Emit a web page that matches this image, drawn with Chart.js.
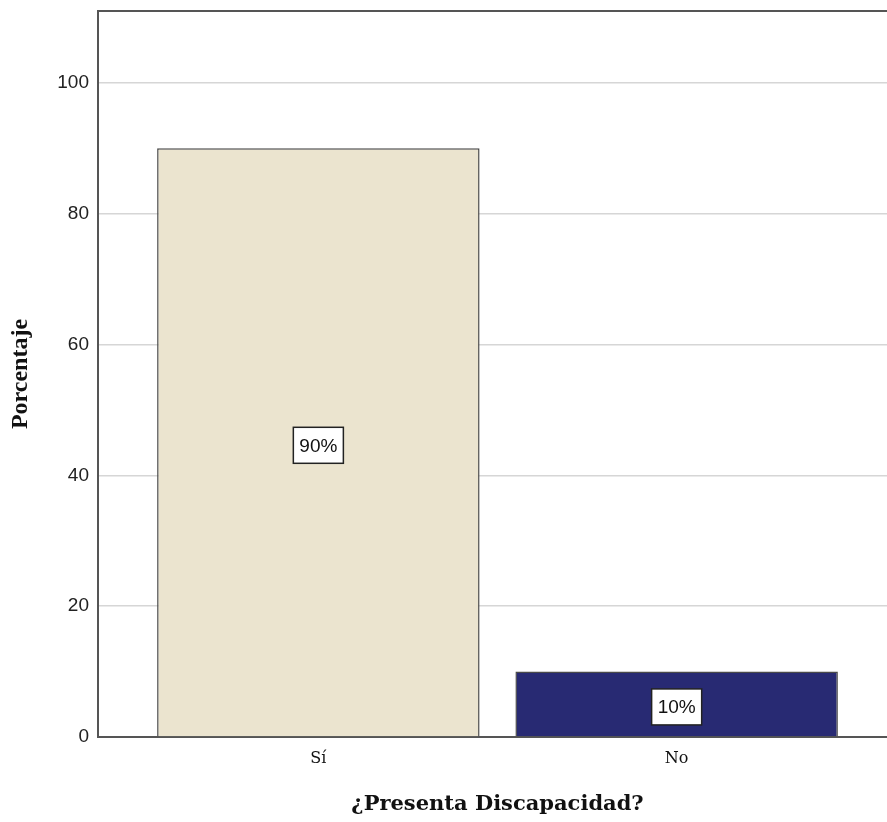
<!DOCTYPE html>
<html>
<head>
<meta charset="utf-8">
<script src="https://cdn.jsdelivr.net/npm/chart.js@4.4.1/dist/chart.umd.min.js"></script>
<style>
  html, body { margin: 0; padding: 0; background: #fff; overflow: hidden; }
  #wrap { width: 900px; height: 822px; position: relative; }
</style>
</head>
<body>
<div id="wrap"><canvas id="myChart"></canvas></div>
<script>
const categories = ['Sí', 'No'];
const percentages = [90, 10];
const barColors = ['#ebe4cf', '#282a73'];

const frameColor = '#555555';

// top edge of the plot frame
const framePlugin = {
  id: 'framePlugin',
  afterDraw(chart) {
    const { ctx, chartArea: { left, right, top } } = chart;
    ctx.save();
    ctx.beginPath();
    ctx.moveTo(left - 1, top);
    ctx.lineTo(right, top);
    ctx.strokeStyle = frameColor;
    ctx.lineWidth = 2;
    ctx.stroke();
    ctx.restore();
  }
};

// boxed percentage labels in the middle of each bar
const boxLabels = {
  id: 'boxLabels',
  afterDatasetsDraw(chart) {
    const { ctx } = chart;
    const meta = chart.getDatasetMeta(0);
    ctx.save();
    ctx.font = '19px "Liberation Sans", Arial, sans-serif';
    ctx.textAlign = 'center';
    ctx.textBaseline = 'middle';
    meta.data.forEach((bar, i) => {
      const txt = percentages[i] + '%';
      const cx = bar.x;
      const cy = (bar.y + bar.base) / 2 + 3;
      const w = ctx.measureText(txt).width + 12;
      const h = 36;
      ctx.fillStyle = '#ffffff';
      ctx.fillRect(cx - w / 2, cy - h / 2, w, h);
      ctx.strokeStyle = '#222222';
      ctx.lineWidth = 1.5;
      ctx.strokeRect(cx - w / 2, cy - h / 2, w, h);
      ctx.fillStyle = '#111111';
      ctx.fillText(txt, cx, cy + 1);
    });
    ctx.restore();
  }
};

const ctx = document.getElementById('myChart').getContext('2d');
new Chart(ctx, {
  type: 'bar',
  data: {
    datasets: [{
      data: percentages.map((v, i) => ({ x: i, y: v })),
      backgroundColor: barColors,
      borderColor: '#4a4a4a',
      borderWidth: 1.5,
      categoryPercentage: 1,
      barPercentage: 0.9
    }]
  },
  options: {
    responsive: true,
    maintainAspectRatio: false,
    animation: false,
    layout: { padding: { top: 11, right: 3 } },
    plugins: {
      legend: { display: false },
      tooltip: { enabled: false }
    },
    scales: {
      x: {
        type: 'linear',
        offset: false,
        min: -0.615,
        max: 1.615,
        afterBuildTicks: (scale) => {
          scale.ticks = categories.map((c, i) => ({ value: i }));
        },
        afterFit: (scale) => { scale.height = 85; },
        ticks: {
          callback: (v) => categories[v],
          padding: 12,
          color: '#111',
          font: { family: '"DejaVu Serif", serif', size: 16 },
          maxRotation: 0
        },
        grid: { display: false, drawTicks: false },
        border: { color: frameColor, width: 2 },
        title: {
          display: true,
          text: '¿Presenta Discapacidad?',
          color: '#111',
          font: { family: '"DejaVu Serif", serif', size: 21, weight: 'bold' },
          padding: { top: 0, bottom: 5 }
        }
      },
      y: {
        min: 0,
        max: 111,
        afterBuildTicks: (scale) => {
          scale.ticks = [0, 20, 40, 60, 80, 100].map(v => ({ value: v }));
        },
        afterFit: (scale) => {
          scale.width = 98;
          scale.paddingTop = 0;
          scale.paddingBottom = 0;
        },
        ticks: {
          padding: 9,
          color: '#222',
          font: { family: '"Liberation Sans", Arial, sans-serif', size: 19 }
        },
        grid: { color: '#d6d6d6', lineWidth: 1.5, drawTicks: false },
        border: { color: frameColor, width: 2 },
        title: {
          display: true,
          text: 'Porcentaje',
          color: '#111',
          font: { family: '"Liberation Serif", serif', size: 24, weight: 'bold' },
          padding: { top: 6, bottom: 0 }
        }
      }
    }
  },
  plugins: [framePlugin, boxLabels]
});
</script>
</body>
</html>
